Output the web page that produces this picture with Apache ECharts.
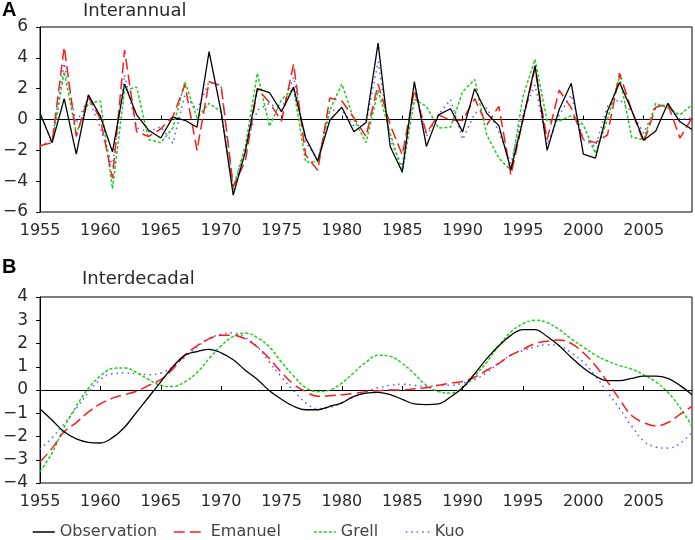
<!DOCTYPE html>
<html>
<head>
<meta charset="utf-8">
<script src="https://cdn.jsdelivr.net/npm/echarts@6/dist/echarts.min.js"></script>
<style>
  html, body { margin: 0; padding: 0; background: #fff; }
  #main { width: 695px; height: 540px; }
</style>
</head>
<body>
<div id="main"></div>
<script>
// years on the x axis
var years = [1955, 1956, 1957, 1958, 1959, 1960, 1961, 1962, 1963, 1964,
  1965, 1966, 1967, 1968, 1969, 1970, 1971, 1972, 1973, 1974,
  1975, 1976, 1977, 1978, 1979, 1980, 1981, 1982, 1983, 1984,
  1985, 1986, 1987, 1988, 1989, 1990, 1991, 1992, 1993, 1994,
  1995, 1996, 1997, 1998, 1999, 2000, 2001, 2002, 2003, 2004,
  2005, 2006, 2007, 2008, 2009]

// panel A - interannual
var obsA = [0.4, -1.5, 1.35, -2.25, 1.6, 0.2, -2.1, 2.3, 0.3, -0.7,
  -1.2, 0.15, -0.05, -0.5, 4.4, 0.5, -4.9, -2.1, 2.0, 1.75,
  0.5, 2.1, -1.2, -2.7, -0.05, 0.8, -0.8, -0.2, 4.95, -1.75,
  -3.4, 2.45, -1.75, 0.3, 0.7, -0.8, 2.0, 0.4, -0.4, -3.25,
  0, 3.5, -2.0, 0.65, 2.35, -2.25, -2.5, 0.55, 2.4, 0.6,
  -1.35, -0.75, 1.05, -0.15, -0.65]
var emaA = [-1.7, -1.5, 4.7, -1.1, 1.5, 0.0, -3.8, 4.5, -0.8, -1.1,
  -0.6, 0.2, 2.25, -2.0, 2.45, 2.2, -4.35, -2.7, 2.0, 1.1,
  -0.1, 3.6, -2.3, -3.3, 1.4, 1.2, 0.1, -1.1, 2.3, -0.35,
  -2.3, 1.9, -0.9, 0.3, -0.05, -0.05, 1.35, -0.35, 0.85, -3.6,
  0, 3.3, -1.3, 1.9, 0.75, -1.3, -1.5, -1.0, 3.0, 0.6,
  -1.5, 0.8, 1.0, -1.2, 0.1]
var grellA = [0.4, -1.5, 3.1, -0.9, 1.05, 1.2, -4.5, 1.9, 2.1, -1.3,
  -1.5, -0.55, 2.45, 0.1, 1.05, 0.5, -4.55, -1.75, 3.0, -0.45,
  1.3, 2.0, -2.75, -2.75, 0.6, 2.3, 0, -1.5, 1.9, -0.9,
  -3.45, 1.3, 0.85, -0.55, -0.5, 1.8, 2.6, -1.0, -2.5, -3.3,
  1.5, 3.9, -0.1, -0.1, 0.25, -0.35, -2.2, 0, 2.8, -1.15,
  -1.3, 1.05, 0.75, 0.3, 0.95]
var kuoA = [-1.75, -1.3, 3.65, -0.25, 1.4, -0.55, -3.05, 2.9, -0.55, -0.8,
  -0.45, -1.55, 1.6, 0.6, 2.45, 2.15, -4.35, -1.75, 0.6, 1.05,
  0.6, 2.75, -1.45, -2.6, 0.6, 0.6, -0.45, -0.25, 3.75, -1.3,
  -3.05, 2.35, -1.1, 0.3, 1.3, -1.3, 0.4, 0.75, -0.8, -2.85,
  0.4, 2.25, -1.65, 0.3, 1.6, -1.3, -1.75, 0.85, 1.3, 0.5,
  -0.9, 0.85, 0.95, 0, 0.1]

// panel B - interdecadal
var obsB = [-0.82, -1.3, -1.8, -2.1, -2.25, -2.28, -2.05, -1.6, -0.95, -0.3,
  0.35, 1.0, 1.5, 1.65, 1.75, 1.6, 1.3, 0.85, 0.45, -0.03,
  -0.4, -0.7, -0.85, -0.85, -0.7, -0.55, -0.27, -0.13, -0.1, -0.2,
  -0.4, -0.6, -0.63, -0.6, -0.3, 0.1, 0.7, 1.35, 1.9, 2.35,
  2.6, 2.6, 2.3, 1.9, 1.4, 0.95, 0.6, 0.4, 0.4, 0.5,
  0.6, 0.6, 0.5, 0.2, -0.2]
var emaB = [-3.1, -2.5, -1.8, -1.4, -0.95, -0.6, -0.35, -0.2, -0.05, 0.2,
  0.45, 0.9, 1.5, 1.9, 2.2, 2.35, 2.35, 2.2, 1.85, 1.35,
  0.75, 0.25, -0.07, -0.27, -0.25, -0.2, -0.15, -0.07, -0.03, 0,
  0, 0.05, 0.1, 0.2, 0.3, 0.37, 0.55, 0.85, 1.15, 1.5,
  1.75, 2.0, 2.1, 2.15, 2.0, 1.6, 1.05, 0.35, -0.4, -1.1,
  -1.4, -1.55, -1.4, -1.05, -0.7]
var grellB = [-3.5, -2.7, -1.6, -0.7, 0.07, 0.6, 0.93, 0.95, 0.75, 0.45,
  0.2, 0.15, 0.35, 0.75, 1.35, 1.9, 2.3, 2.45, 2.25, 1.85,
  1.2, 0.6, 0.1, -0.07, 0, 0.3, 0.75, 1.2, 1.5, 1.45,
  1.15, 0.7, 0.2, -0.07, -0.13, 0.1, 0.6, 1.2, 1.9, 2.5,
  2.85, 3.0, 2.9, 2.6, 2.2, 1.85, 1.5, 1.25, 1.05, 0.9,
  0.65, 0.35, -0.1, -0.75, -1.55]
var kuoB = [-2.55, -2.05, -1.45, -0.8, -0.1, 0.45, 0.7, 0.73, 0.7, 0.66,
  0.73, 1.0, 1.4, 1.85, 2.2, 2.4, 2.45, 2.25, 1.85, 1.2,
  0.55, -0.03, -0.55, -0.8, -0.75, -0.55, -0.3, -0.07, 0.1, 0.2,
  0.25, 0.2, 0.15, 0.2, 0.2, 0.3, 0.45, 0.75, 1.15, 1.5,
  1.7, 1.85, 1.95, 1.9, 1.6, 1.2, 0.6, -0.1, -0.8, -1.55,
  -2.2, -2.45, -2.5, -2.3, -1.8]

var names = ['Observation', 'Emanuel', 'Grell', 'Kuo']
var colors = ['#000000', '#ff1a1a', '#1ecf1e', '#4a5cff']
var dashes = ['solid', [11, 5], [3, 2], [1.5, 4]]

var font = 'DejaVu Sans'
var textColor = '#2a2a2a'

let chart = echarts.init(document.getElementById('main'), null, {renderer: 'canvas'})

function xAxisFor (idx) {
  return {
    type: 'category',
    gridIndex: idx,
    data: years,
    boundaryGap: false,
    axisLine: {lineStyle: {color: '#000', width: 1}},
    axisTick: {inside: true, length: 4, interval: 4, lineStyle: {color: '#000'}},
    axisLabel: {interval: 4, margin: 11, fontFamily: font, fontSize: 16, color: textColor},
    splitLine: {show: false}
  }
}

function yAxisFor (idx, lim, step) {
  return {
    type: 'value',
    gridIndex: idx,
    min: -lim,
    max: lim,
    interval: step,
    axisLine: {show: true, lineStyle: {color: '#000', width: 1}},
    axisTick: {show: true, inside: false, length: 4, lineStyle: {color: '#000'}},
    axisLabel: {margin: 12, fontFamily: font, fontSize: 17, color: textColor,
      formatter: function (v) { return v < 0 ? '\u2212' + Math.abs(v) : String(v) }},
    splitLine: {show: false}
  }
}

function makeSeries (idx, values, k, smooth) {
  let s = {
    name: names[k],
    type: 'line',
    xAxisIndex: idx,
    yAxisIndex: idx,
    data: values,
    symbol: 'none',
    smooth: smooth,
    lineStyle: {color: colors[k], width: k === 0 ? 1.3 : 1.5, type: dashes[k]},
    itemStyle: {color: colors[k]},
    z: 10 - k
  }
  if (k === 0) {
    s.markLine = {
      silent: true,
      symbol: 'none',
      label: {show: false},
      lineStyle: {color: '#000', width: 1, type: 'solid'},
      data: [{yAxis: 0}]
    }
  }
  return s
}

let seriesList = []
let panelA = [obsA, emaA, grellA, kuoA]
let panelB = [obsB, emaB, grellB, kuoB]
for (let k = 0; k < 4; k++) seriesList.push(makeSeries(0, panelA[k], k, false))
for (let k = 0; k < 4; k++) seriesList.push(makeSeries(1, panelB[k], k, 0.4))

// one legend box per entry so each can sit where the original puts it
let legendPos = [27, 168, 308, 400]
let legendWidth = [22, 32, 22, 24]
let legends = names.map(function (n, k) {
  return {
    data: [n],
    left: legendPos[k],
    top: 519,
    itemWidth: legendWidth[k],
    itemHeight: 14,
    itemGap: 0,
    selectedMode: false,
    itemStyle: {opacity: 0},
    lineStyle: {width: 1.5},
    textStyle: {fontFamily: font, fontSize: 16, color: '#444'}
  }
})

option = {
  backgroundColor: '#ffffff',
  animation: false,
  grid: [
    {left: 37, top: 27, width: 655, height: 185, show: true, borderColor: '#000', borderWidth: 1},
    {left: 37, top: 297, width: 655, height: 186, show: true, borderColor: '#000', borderWidth: 1}
  ],
  xAxis: [xAxisFor(0), xAxisFor(1)],
  yAxis: [yAxisFor(0, 6, 2), yAxisFor(1, 4, 1)],
  legend: legends,
  graphic: [
    {type: 'text', left: 2, top: 0, style: {text: 'A', font: 'bold 20px "Liberation Sans"', fill: '#000'}},
    {type: 'text', left: 2, top: 257, style: {text: 'B', font: 'bold 20px "Liberation Sans"', fill: '#000'}},
    {type: 'text', left: 83, top: 2, style: {text: 'Interannual', font: '18px "DejaVu Sans"', fill: textColor}},
    {type: 'text', left: 82, top: 270, style: {text: 'Interdecadal', font: '18px "DejaVu Sans"', fill: textColor}}
  ],
  series: seriesList
}

chart.setOption(option)
</script>
</body>
</html>
